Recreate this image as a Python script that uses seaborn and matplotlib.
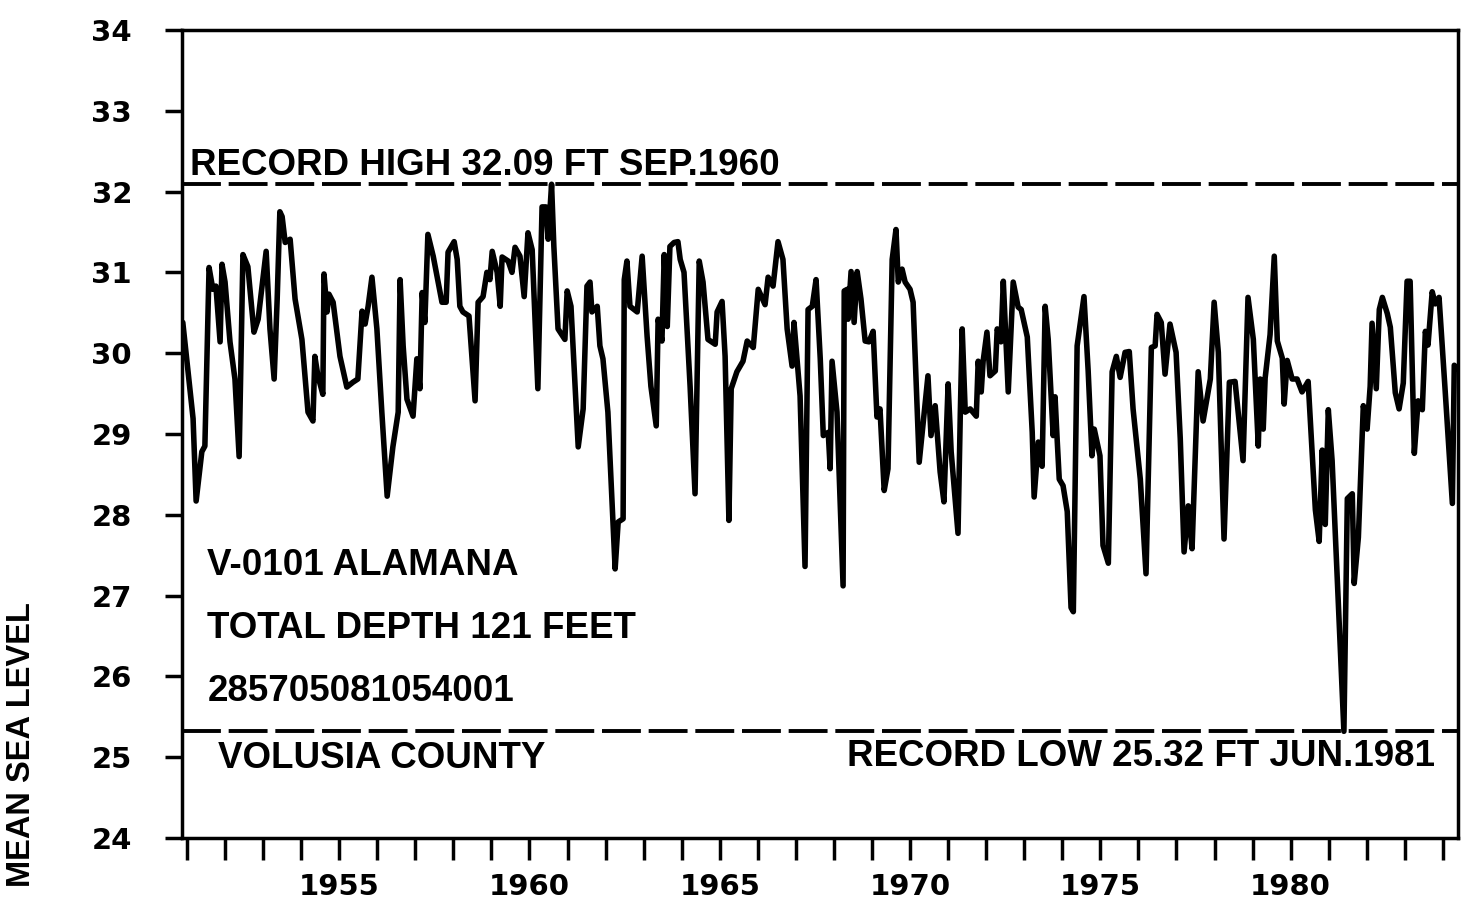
"""Hydrograph of well V-0101 Alamana, Volusia County (monthly water level)"""

import matplotlib
matplotlib.use("Agg")
import pandas as pd
import seaborn as sns
import matplotlib.pyplot as plt

# (decimal year, water level in ft above mean sea level)
seg_1951 = [
    (1950.89, 30.38), (1951.16, 29.19), (1951.24, 28.17), (1951.39, 28.78), (1951.47, 28.85),
    (1951.58, 31.06), (1951.68, 30.79), (1951.76, 30.83), (1951.87, 30.14), (1951.92, 31.10),
    (1952.00, 30.88), (1952.13, 30.14), (1952.26, 29.68), (1952.37, 28.72), (1952.47, 31.22),
    (1952.60, 31.07), (1952.76, 30.26), (1952.87, 30.42), (1953.08, 31.26), (1953.18, 30.30),
    (1953.29, 29.68), (1953.37, 30.67), (1953.44, 31.75), (1953.50, 31.69), (1953.58, 31.37),
    (1953.71, 31.41), (1953.84, 30.67), (1954.02, 30.17), (1954.18, 29.27), (1954.31, 29.16),
    (1954.36, 29.96), (1954.44, 29.72), (1954.57, 29.49), (1954.60, 30.98), (1954.68, 30.51),
    (1954.73, 30.73), (1954.84, 30.63), (1955.02, 29.96), (1955.20, 29.58), (1955.36, 29.64),
    (1955.49, 29.68), (1955.60, 30.52), (1955.68, 30.36), (1955.76, 30.58), (1955.86, 30.94),
    (1955.99, 30.30), (1956.12, 29.27), (1956.26, 28.23), (1956.41, 28.84), (1956.55, 29.27),
]
seg_1956 = [
    (1956.60, 30.91), (1956.68, 30.09), (1956.78, 29.43), (1956.94, 29.22), (1957.04, 29.93),
    (1957.12, 29.56), (1957.18, 30.75), (1957.25, 30.38), (1957.33, 31.47), (1957.47, 31.20),
    (1957.70, 30.63), (1957.81, 30.63), (1957.86, 31.25), (1958.02, 31.38), (1958.10, 31.16),
    (1958.17, 30.58), (1958.25, 30.51), (1958.41, 30.46), (1958.57, 29.41), (1958.65, 30.63),
    (1958.78, 30.70), (1958.88, 31.00), (1958.96, 30.91), (1959.02, 31.26), (1959.15, 31.00),
    (1959.23, 30.58), (1959.28, 31.19), (1959.44, 31.14), (1959.54, 31.00), (1959.62, 31.31),
    (1959.75, 31.20), (1959.86, 30.70), (1959.96, 31.49), (1960.07, 31.28), (1960.22, 29.56),
    (1960.33, 31.81), (1960.43, 31.81), (1960.49, 31.41), (1960.58, 32.09), (1960.64, 31.32),
    (1960.75, 30.30), (1960.93, 30.17), (1960.99, 30.77), (1961.09, 30.58), (1961.28, 28.84),
    (1961.41, 29.31), (1961.51, 30.83), (1961.59, 30.88), (1961.64, 30.51), (1961.78, 30.58),
    (1961.85, 30.09), (1961.93, 29.93), (1962.06, 29.27),
]
seg_1962 = [
    (1962.25, 27.33), (1962.33, 27.91), (1962.46, 27.95), (1962.49, 30.91), (1962.56, 31.14),
    (1962.64, 30.58), (1962.75, 30.54), (1962.83, 30.51), (1962.96, 31.20), (1963.09, 30.21),
    (1963.19, 29.59), (1963.33, 29.10), (1963.38, 30.42), (1963.48, 30.15), (1963.54, 31.22),
    (1963.62, 30.33), (1963.69, 31.32), (1963.80, 31.37), (1963.90, 31.38), (1963.96, 31.16),
    (1964.06, 31.00), (1964.22, 29.59), (1964.35, 28.26), (1964.46, 31.14), (1964.56, 30.88),
    (1964.69, 30.17), (1964.88, 30.11), (1964.93, 30.51), (1965.06, 30.64), (1965.14, 29.96),
    (1965.24, 27.93), (1965.30, 29.56), (1965.45, 29.77), (1965.61, 29.90), (1965.72, 30.15),
    (1965.88, 30.07), (1966.01, 30.79), (1966.19, 30.60), (1966.27, 30.94), (1966.40, 30.83),
    (1966.53, 31.38), (1966.66, 31.16), (1966.77, 30.30), (1966.90, 29.84), (1966.95, 30.38),
    (1967.11, 29.47), (1967.24, 27.36), (1967.32, 30.54), (1967.43, 30.58), (1967.53, 30.91),
    (1967.64, 29.93), (1967.72, 28.98), (1967.85, 29.02),
]
seg_1968 = [
    (1967.90, 28.57), (1967.95, 29.90), (1968.08, 29.27), (1968.24, 27.12), (1968.27, 30.77),
    (1968.35, 30.79), (1968.37, 30.42), (1968.45, 31.01), (1968.53, 30.38), (1968.61, 31.01),
    (1968.71, 30.67), (1968.82, 30.15), (1968.92, 30.14), (1969.03, 30.27), (1969.13, 29.21),
    (1969.21, 29.31), (1969.32, 28.30), (1969.42, 28.57), (1969.53, 31.16), (1969.63, 31.53),
    (1969.69, 30.88), (1969.79, 31.04), (1969.87, 30.88), (1970.00, 30.79), (1970.08, 30.63),
    (1970.24, 28.65), (1970.32, 29.02), (1970.40, 29.40), (1970.47, 29.72), (1970.55, 28.98),
    (1970.66, 29.35), (1970.79, 28.53), (1970.89, 28.16), (1971.00, 29.62), (1971.08, 28.78),
    (1971.26, 27.77), (1971.32, 29.25), (1971.37, 30.30), (1971.45, 29.27), (1971.58, 29.31),
    (1971.74, 29.22), (1971.79, 29.90), (1971.87, 29.52), (1971.92, 29.90), (1972.02, 30.26),
    (1972.10, 29.72), (1972.24, 29.78), (1972.29, 30.30), (1972.39, 30.14), (1972.45, 30.89),
    (1972.58, 29.52), (1972.71, 30.88), (1972.84, 30.57), (1972.92, 30.54), (1973.08, 30.20),
    (1973.21, 29.02), (1973.26, 28.22), (1973.37, 28.90), (1973.47, 28.60), (1973.55, 30.58),
]
seg_1973 = [
    (1973.63, 30.17), (1973.76, 28.98), (1973.81, 29.46), (1973.86, 28.98), (1973.92, 28.44),
    (1974.02, 28.36), (1974.13, 28.04), (1974.23, 26.85), (1974.29, 26.80), (1974.39, 30.09),
    (1974.57, 30.70), (1974.68, 29.78), (1974.78, 28.73), (1974.84, 29.06), (1974.99, 28.73),
    (1975.07, 27.62), (1975.21, 27.40), (1975.31, 29.77), (1975.42, 29.96), (1975.52, 29.70),
    (1975.65, 30.01), (1975.76, 30.02), (1975.86, 29.31), (1976.05, 28.44), (1976.20, 27.27),
    (1976.34, 30.07), (1976.44, 30.09), (1976.49, 30.48), (1976.60, 30.38), (1976.70, 29.74),
    (1976.83, 30.36), (1976.99, 30.01), (1977.10, 28.94), (1977.20, 27.54), (1977.31, 28.11),
    (1977.41, 27.58), (1977.57, 29.77), (1977.70, 29.16), (1977.89, 29.68), (1977.99, 30.63),
    (1978.10, 30.01), (1978.25, 27.70), (1978.39, 29.64), (1978.54, 29.65), (1978.75, 28.67),
    (1978.88, 30.69), (1979.02, 30.17),
]
seg_1979 = [
    (1979.15, 28.85), (1979.20, 29.68), (1979.28, 29.06), (1979.33, 29.69), (1979.46, 30.23),
    (1979.57, 31.20), (1979.65, 30.15), (1979.78, 29.94), (1979.83, 29.37), (1979.91, 29.91),
    (1980.04, 29.68), (1980.17, 29.68), (1980.30, 29.52), (1980.46, 29.65), (1980.65, 28.06),
    (1980.75, 27.67), (1980.83, 28.80), (1980.91, 27.88), (1980.99, 29.30), (1981.09, 28.67),
    (1981.40, 25.32), (1981.49, 28.20), (1981.62, 28.26), (1981.67, 27.15), (1981.78, 27.72),
    (1981.91, 29.35), (1982.01, 29.06), (1982.09, 29.59), (1982.14, 30.37), (1982.25, 29.56),
    (1982.33, 30.54), (1982.41, 30.69), (1982.54, 30.49), (1982.62, 30.32), (1982.75, 29.51),
    (1982.85, 29.31), (1982.96, 29.63), (1983.06, 30.89), (1983.14, 30.89), (1983.25, 28.76),
    (1983.35, 29.41), (1983.46, 29.30), (1983.54, 30.27), (1983.61, 30.10), (1983.72, 30.76),
    (1983.80, 30.61), (1983.90, 30.69), (1984.06, 29.54), (1984.25, 28.14), (1984.30, 29.85),
    (1984.40, 29.80),
]

record_high = 32.09
record_low = 25.32
year_ticks = list(range(1951, 1985))
level_ticks = list(range(24, 35))

df = pd.DataFrame(seg_1951 + seg_1956 + seg_1962 + seg_1968 + seg_1973 + seg_1979,
                  columns=["year", "level"])

sns.set_style("white")
plt.rcParams["font.family"] = ["Liberation Sans", "DejaVu Sans"]
plt.rcParams["text.color"] = "black"

fig = plt.figure(figsize=(14.61, 9.02), dpi=100)
ax = fig.add_axes([0.1246, 0.0710, 0.8734, 0.8958])

sns.lineplot(data=df, x="year", y="level", ax=ax, color="black", lw=4.0,
             sort=False, estimator=None)

# record high / low dashed lines
for lev in (record_high, record_low):
    ax.axhline(lev, color="black", lw=2.8, ls=(0, (10, 2)))

ax.set_xlim(1950.87, 1984.40)
ax.set_ylim(24, 34)
ax.set_yticks(level_ticks)
ax.set_xticks(year_ticks)
ax.set_xticklabels([str(y) if y % 5 == 0 else "" for y in year_ticks])
ax.tick_params(axis="y", left=True, direction="out", length=12, width=2.5,
               pad=24, labelsize=21, color="black", labelcolor="black")
ax.tick_params(axis="x", bottom=True, direction="out", length=16, width=2.5,
               pad=9, labelsize=21, color="black", labelcolor="black")
for lbl in ax.get_xticklabels() + ax.get_yticklabels():
    lbl.set_fontfamily("DejaVu Sans")
    lbl.set_fontweight("heavy")
for sp in ax.spines.values():
    sp.set_visible(True)
    sp.set_linewidth(2.5)
    sp.set_color("black")
ax.set_xlabel("")
ax.set_ylabel("")

txt = dict(fontsize=26.5, fontweight="bold", va="baseline", color="black")
ax.text(1951.08, 32.20, "RECORD HIGH 32.09 FT SEP.1960", ha="left", **txt)
ax.text(1951.53, 27.26, "V-0101 ALAMANA", ha="left", **txt)
ax.text(1951.53, 26.48, "TOTAL DEPTH 121 FEET", ha="left", **txt)
ax.text(1951.55, 25.70, "285705081054001", ha="left", **txt)
ax.text(1951.81, 24.86, "VOLUSIA COUNTY", ha="left", **txt)
ax.text(1983.80, 24.89, "RECORD LOW 25.32 FT JUN.1981", ha="right", **txt)

fig.text(22 / 1461, 1 - 745 / 902, "MEAN SEA LEVEL", rotation=90, ha="center",
         va="center", fontsize=23.5, fontweight="bold", color="black")

fig.savefig("out.png", dpi=100)
